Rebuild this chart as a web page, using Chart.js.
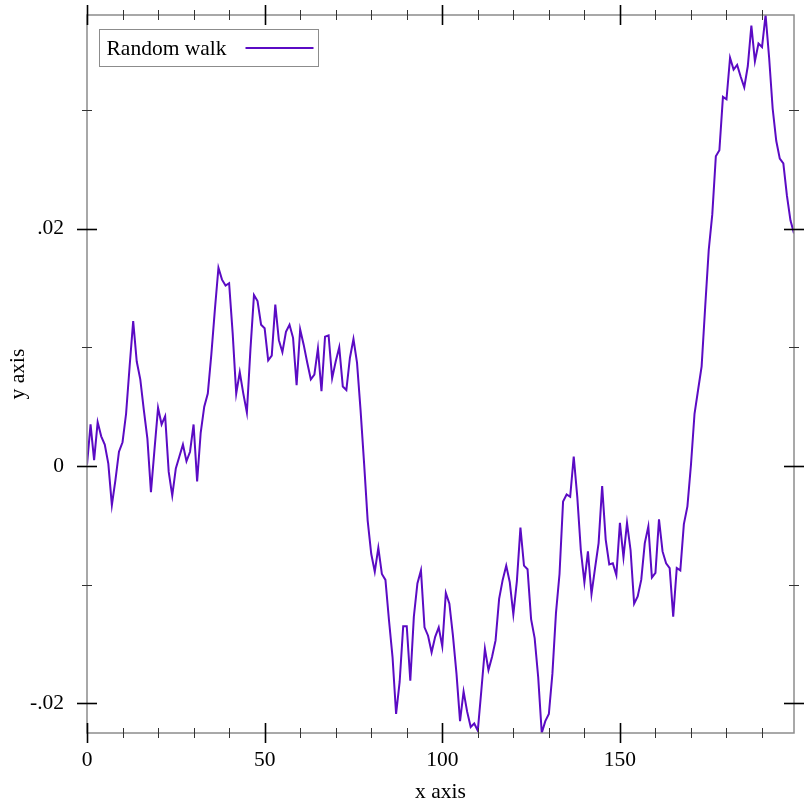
<!DOCTYPE html>
<html>
<head>
<meta charset="utf-8">
<script src="https://cdn.jsdelivr.net/npm/chart.js@4"></script>
<style>
  html, body { margin: 0; padding: 0; background: #fff; }
  #wrap { width: 812px; height: 812px; }
</style>
</head>
<body>
<div id="wrap"><canvas id="walkChart" width="812" height="812"></canvas></div>
<script>
// values, one point per x step (0..199)
const walkValues = [
   0.0001,  0.0035,  0.0005,  0.0037,  0.0025,  0.0018,  0.0002, -0.0033, -0.0012,  0.0012,
   0.0020,  0.0044,  0.0084,  0.0122,  0.0088,  0.0073,  0.0047,  0.0023, -0.0022,  0.0014,
   0.0049,  0.0035,  0.0042, -0.0005, -0.0025, -0.0002,  0.0008,  0.0018,  0.0004,  0.0012,
   0.0035, -0.0013,  0.0028,  0.0050,  0.0061,  0.0094,  0.0132,  0.0167,  0.0157,  0.0152,
   0.0154,  0.0112,  0.0061,  0.0079,  0.0061,  0.0045,  0.0098,  0.0144,  0.0139,  0.0119,
   0.0116,  0.0089,  0.0093,  0.0136,  0.0106,  0.0096,  0.0113,  0.0119,  0.0108,  0.0068,
   0.0115,  0.0102,  0.0087,  0.0073,  0.0077,  0.0099,  0.0063,  0.0109,  0.0110,  0.0074,
   0.0088,  0.0100,  0.0067,  0.0064,  0.0091,  0.0107,  0.0087,  0.0047,  0.0002, -0.0046,
  -0.0074, -0.0089, -0.0069, -0.0091, -0.0096, -0.0130, -0.0161, -0.0209, -0.0182, -0.0135,
  -0.0135, -0.0181, -0.0127, -0.0099, -0.0088, -0.0136, -0.0143, -0.0157, -0.0144, -0.0136,
  -0.0152, -0.0107, -0.0116, -0.0143, -0.0175, -0.0215, -0.0190, -0.0207, -0.0220, -0.0217,
  -0.0223, -0.0189, -0.0154, -0.0172, -0.0161, -0.0147, -0.0112, -0.0096, -0.0084, -0.0098,
  -0.0125, -0.0097, -0.0052, -0.0084, -0.0087, -0.0129, -0.0145, -0.0178, -0.0225, -0.0215,
  -0.0209, -0.0175, -0.0124, -0.0091, -0.0030, -0.0024, -0.0026,  0.0008, -0.0026, -0.0071,
  -0.0098, -0.0072, -0.0108, -0.0086, -0.0065, -0.0017, -0.0062, -0.0083, -0.0082, -0.0092,
  -0.0048, -0.0077, -0.0048, -0.0071, -0.0116, -0.0110, -0.0096, -0.0065, -0.0051, -0.0094,
  -0.0090, -0.0045, -0.0072, -0.0082, -0.0086, -0.0127, -0.0086, -0.0088, -0.0049, -0.0034,
   0.0001,  0.0044,  0.0064,  0.0084,  0.0134,  0.0182,  0.0212,  0.0261,  0.0266,  0.0311,
   0.0309,  0.0344,  0.0334,  0.0338,  0.0328,  0.0319,  0.0337,  0.0371,  0.0341,  0.0356,
   0.0353,  0.0380,  0.0344,  0.0301,  0.0274,  0.0259,  0.0255,  0.0228,  0.0207,  0.0196
];

const xMajorTicks = [0, 50, 100, 150];
const xMinorTicks = [10, 20, 30, 40, 60, 70, 80, 90, 110, 120, 130, 140, 160, 170, 180, 190];
const yMajorTicks = [-0.02, 0, 0.02];
const yMinorTicks = [-0.01, 0.01, 0.03];

const seriesLabel = 'Random walk';
const lineColor = '#5b0bc4';
const frameColor = '#8c8c8c';
const fontFamily = '"Liberation Serif", "DejaVu Serif", serif';
const fontSize = 21.5;

const points = walkValues.map((v, i) => ({ x: i, y: v }));

// y labels like .02 / 0 / -.02
const fmtY = (v) => {
    if (Math.abs(v) < 1e-9) return '0';
    return (v < 0 ? '-' : '') + Math.abs(v).toFixed(2).replace(/^0/, '');
};

// frame on all four sides + major/minor ticks crossing it
const framePlugin = {
    id: 'frameTicks',
    afterDatasetsDraw(chart) {
        const { ctx, chartArea: a, scales: { x, y } } = chart;
        ctx.save();
        ctx.strokeStyle = frameColor;
        ctx.lineWidth = 1.5;
        ctx.strokeRect(a.left, a.top, a.right - a.left, a.bottom - a.top);

        const tick = (x1, y1, x2, y2, major) => {
            ctx.strokeStyle = major ? '#000' : '#333';
            ctx.lineWidth = major ? 1.6 : 1;
            ctx.beginPath();
            ctx.moveTo(x1, y1);
            ctx.lineTo(x2, y2);
            ctx.stroke();
        };
        const drawX = (vals, half, major) => vals.forEach(v => {
            const px = Math.round(x.getPixelForValue(v)) + 0.5;
            tick(px, a.bottom - half, px, a.bottom + half, major);
            tick(px, a.top - half, px, a.top + half, major);
        });
        const drawY = (vals, half, major) => vals.forEach(v => {
            const py = Math.round(y.getPixelForValue(v)) + 0.5;
            tick(a.left - half, py, a.left + half, py, major);
            tick(a.right - half, py, a.right + half, py, major);
        });
        drawX(xMinorTicks, 5, false);
        drawY(yMinorTicks, 5, false);
        drawX(xMajorTicks, 10, true);
        drawY(yMajorTicks, 10, true);
        ctx.restore();
    }
};

// boxed legend inside the plot, text then line sample
const legendPlugin = {
    id: 'boxLegend',
    afterDraw(chart) {
        const { ctx, chartArea: a } = chart;
        const ds = chart.data.datasets[0];
        const bx = a.left + 12.5, by = a.top + 14.5, bw = 219, bh = 37;
        ctx.save();
        ctx.fillStyle = '#fff';
        ctx.fillRect(bx, by, bw, bh);
        ctx.strokeStyle = frameColor;
        ctx.lineWidth = 1;
        ctx.strokeRect(bx, by, bw, bh);
        ctx.fillStyle = '#000';
        ctx.font = fontSize + 'px ' + fontFamily;
        ctx.textBaseline = 'middle';
        ctx.fillText(ds.label, bx + 7, by + bh / 2 + 1);
        ctx.strokeStyle = ds.borderColor;
        ctx.lineWidth = 2;
        ctx.beginPath();
        ctx.moveTo(bx + 146, by + bh / 2);
        ctx.lineTo(bx + 214, by + bh / 2);
        ctx.stroke();
        ctx.restore();
    }
};

const ctx = document.getElementById('walkChart').getContext('2d');
new Chart(ctx, {
    type: 'line',
    data: {
        datasets: [{
            label: seriesLabel,
            data: points,
            borderColor: lineColor,
            borderWidth: 2,
            pointRadius: 0,
            tension: 0,
            fill: false
        }]
    },
    options: {
        responsive: false,
        animation: false,
        events: [],
        layout: { padding: { left: 0, top: 15, right: 18, bottom: 0 } },
        plugins: {
            legend: { display: false },
            tooltip: { enabled: false }
        },
        scales: {
            x: {
                type: 'linear',
                min: 0,
                max: walkValues.length - 1,
                grid: { display: false },
                border: { display: false },
                afterBuildTicks: (s) => { s.ticks = xMajorTicks.map(v => ({ value: v })); },
                afterFit: (s) => { s.height = 79; s.paddingLeft = 0; s.paddingRight = 0; },
                ticks: {
                    autoSkip: false,
                    maxRotation: 0,
                    padding: 6,
                    color: '#000',
                    font: { family: fontFamily, size: fontSize },
                    callback: (v) => String(v)
                },
                title: {
                    display: true,
                    text: 'x axis',
                    color: '#000',
                    font: { family: fontFamily, size: fontSize },
                    padding: { top: 0, bottom: 7 }
                }
            },
            y: {
                type: 'linear',
                min: Math.min(...walkValues),
                max: Math.max(...walkValues),
                grid: { display: false },
                border: { display: false },
                afterBuildTicks: (s) => { s.ticks = yMajorTicks.map(v => ({ value: v })); },
                afterFit: (s) => { s.width = 87; s.paddingTop = 0; s.paddingBottom = 0; },
                ticks: {
                    autoSkip: false,
                    padding: 15,
                    color: '#000',
                    font: { family: fontFamily, size: fontSize },
                    callback: (v) => fmtY(v)
                },
                title: {
                    display: true,
                    text: 'y axis',
                    color: '#000',
                    font: { family: fontFamily, size: fontSize },
                    padding: { top: 5, bottom: 0 }
                }
            }
        }
    },
    plugins: [framePlugin, legendPlugin]
});
</script>
</body>
</html>
